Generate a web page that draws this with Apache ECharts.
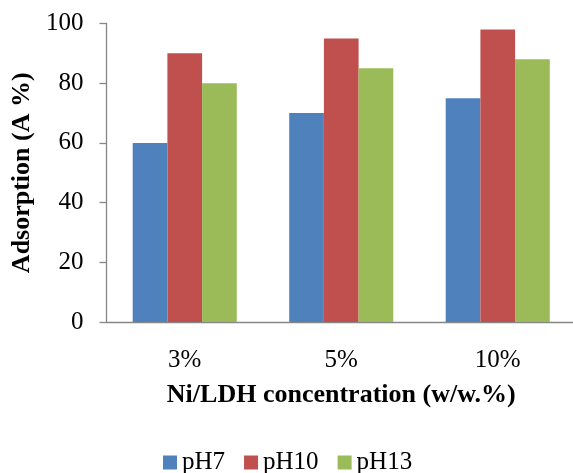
<!DOCTYPE html>
<html>
<head>
<meta charset="utf-8">
<script src="https://cdn.jsdelivr.net/npm/echarts@6/dist/echarts.min.js"></script>
<style>
  html, body { margin: 0; padding: 0; background: #fff; }
  #chart { width: 573px; height: 473px; }
</style>
</head>
<body>
<div id="chart"></div>
<script>
const categories = ["3%", "5%", "10%"];
const seriesNames = ["pH7", "pH10", "pH13"];
const pH7 = [60, 70, 75];
const pH10 = [90, 95, 98];
const pH13 = [80, 85, 88];
const colors = ["#4F81BD", "#C0504D", "#9BBB59"];

const font = "Liberation Serif";
const axisGray = "#868686";

const chart = echarts.init(document.getElementById("chart"), null, {
  renderer: "canvas",
});
const option = {
  animation: false,
  color: colors,
  textStyle: { fontFamily: font },
  legend: {
    top: 445,
    left: 158,
    itemWidth: 14,
    itemHeight: 14,
    itemGap: 19,
    icon: "rect",
    textStyle: { fontFamily: font, fontSize: 25, color: "#000" },
    data: seriesNames,
  },
  grid: {
    left: 106.5,
    top: 23.5,
    width: 469.5,
    height: 298.5,
    outerBoundsMode: "none",
    containLabel: false,
  },
  xAxis: {
    type: "category",
    data: categories,
    name: "Ni/LDH concentration (w/w.%)",
    nameLocation: "middle",
    nameGap: 60,
    nameTextStyle: { fontFamily: font, fontSize: 26, fontWeight: "bold", color: "#000" },
    axisLine: { lineStyle: { color: axisGray, width: 1.3 } },
    axisTick: { length: 7, lineStyle: { color: axisGray, width: 1.3 } },
    axisLabel: { fontFamily: font, fontSize: 25, color: "#000", margin: 26 },
  },
  yAxis: {
    type: "value",
    min: 0,
    max: 100,
    interval: 20,
    name: "Adsorption (A %)",
    nameLocation: "middle",
    nameGap: 70,
    nameTextStyle: { fontFamily: font, fontSize: 26, fontWeight: "bold", color: "#000" },
    axisLine: { show: true, lineStyle: { color: axisGray, width: 1.3 } },
    axisTick: { show: true, length: 7, lineStyle: { color: axisGray, width: 1.3 } },
    axisLabel: { fontFamily: font, fontSize: 25, color: "#000", margin: 23 },
    splitLine: { show: false },
  },
  series: [
    { type: "bar", name: seriesNames[0], data: pH7, barGap: "0%", barCategoryGap: "33.5%" },
    { type: "bar", name: seriesNames[1], data: pH10, barGap: "0%", barCategoryGap: "33.5%" },
    { type: "bar", name: seriesNames[2], data: pH13, barGap: "0%", barCategoryGap: "33.5%" },
  ],
};
chart.setOption(option);
</script>
</body>
</html>
